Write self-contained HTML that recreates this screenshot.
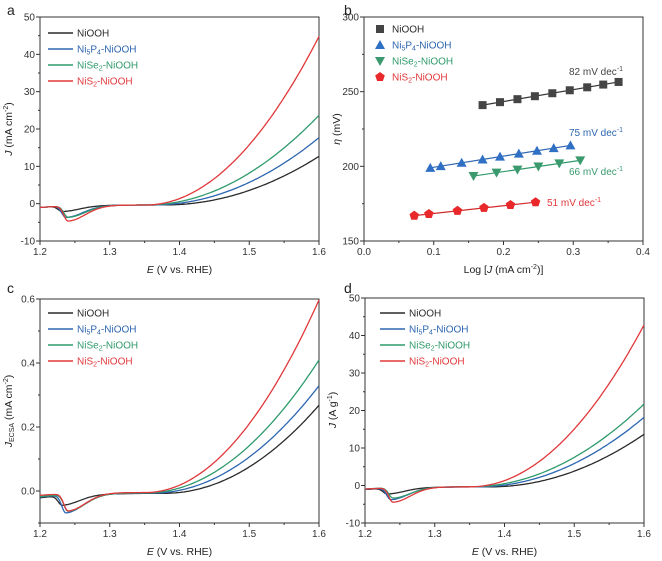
<!DOCTYPE html>
<html><head><meta charset="utf-8"><style>
body{margin:0;background:#fff}
svg{display:block;font-family:"Liberation Sans",sans-serif}
</style></head><body>
<svg id="s" width="662" height="561" viewBox="0 0 662 561" xmlns="http://www.w3.org/2000/svg"></svg>
<script>
const S=document.getElementById('s');let h='';
const C={k:'#2b2b2b',b:'#2d66b0',g:'#2f9a6c',r:'#e0383a'};
function isMaj(v,m){return Math.abs(v/m-Math.round(v/m))<1e-6;}
function axes(L,R,T,B,xmin,xmax,xmaj,xminr,xlab,ymin,ymax,ymaj,ylab){
 h+=`<rect x="${L}" y="${T}" width="${R-L}" height="${B-T}" fill="none" stroke="#333" stroke-width="1"/>`;
 const X=v=>L+(v-xmin)/(xmax-xmin)*(R-L),Y=v=>B-(v-ymin)/(ymax-ymin)*(B-T);
 for(let i=0;;i++){const v=xmin+i*xmaj/2;if(v>xmax+1e-9)break;const x=X(v);const maj=isMaj(v,xmaj);
  h+=`<line x1="${x}" y1="${B}" x2="${x}" y2="${B+(maj?4:2)}" stroke="#333"/>`;
  if(maj)h+=`<text x="${x}" y="${B+14}" font-size="10" text-anchor="middle" fill="#333">${v.toFixed(xminr)}</text>`;}
 for(let i=0;;i++){const v=ymin+i*ymaj/2;if(v>ymax+1e-9)break;const y=Y(v);const maj=isMaj(v,ymaj);
  h+=`<line x1="${L}" y1="${y}" x2="${L-(maj?4:2)}" y2="${y}" stroke="#333"/>`;
  if(maj)h+=`<text x="${L-5}" y="${y+3.5}" font-size="10" text-anchor="end" fill="#333">${ylab(v)}</text>`;}
 h+=`<text x="${(L+R)/2}" y="${B+32}" font-size="10.5" text-anchor="middle" fill="#222">${xlab}</text>`;
 return [X,Y];
}
function model(E,p){
 let v=-1.0+0.7*(1-Math.exp(-(E-1.2)/0.06));
 const d=E-p.c, w=d<0?0.008:0.035; v+=-p.D*Math.exp(-((d/w)**2));
 if(E>p.E0)v+=p.k*(E-p.E0)**2;
 return v;
}
const P={k:{E0:1.38,k:268,D:1.4,c:1.232},b:{E0:1.363,k:320,D:3.0,c:1.237},g:{E0:1.353,k:393,D:3.0,c:1.24},r:{E0:1.352,k:733,D:4.0,c:1.24}};
function curves(X,Y,sc){
 for(const key of ['k','b','g','r']){let d='';
  for(let i=0;i<=200;i++){const E=1.2+i*0.002;const v=model(E,P[key])*sc[key];d+=(d?'L':'M')+X(E).toFixed(1)+' '+Y(v).toFixed(1);}
  h+=`<path d="${d}" fill="none" stroke="${C[key]}" stroke-width="1.3"/>`;}
}
function legend(x,y,mkf){
 const L=[['k','NiOOH'],['b','Ni<tspan font-size="7" dy="2">5</tspan><tspan dy="-2">P</tspan><tspan font-size="7" dy="2">4</tspan><tspan dy="-2">-NiOOH</tspan>'],['g','NiSe<tspan font-size="7" dy="2">2</tspan><tspan dy="-2">-NiOOH</tspan>'],['r','NiS<tspan font-size="7" dy="2">2</tspan><tspan dy="-2">-NiOOH</tspan>']];
 L.forEach((l,i)=>{const yy=y+i*16;
  if(mkf)h+=mkf(l[0],x+10,yy);else h+=`<line x1="${x}" y1="${yy}" x2="${x+25}" y2="${yy}" stroke="${C[l[0]]}" stroke-width="1.5"/>`;
  h+=`<text x="${x+(mkf?22:29)}" y="${yy+3.5}" font-size="10" fill="${C[l[0]]}">${l[1]}</text>`;});
}
const XL='<tspan font-style="italic">E</tspan> (V vs. RHE)';
let R=axes(40,319,17,241,1.2,1.6,0.1,1,XL,-10,50,10,v=>Math.round(v));
curves(R[0],R[1],{k:1,b:1,g:1,r:1});legend(48,33);
h+=`<text transform="translate(12,129) rotate(-90)" font-size="10.5" text-anchor="middle" fill="#222"><tspan font-style="italic">J</tspan> (mA cm<tspan font-size="7" dy="-4">-2</tspan><tspan dy="4">)</tspan></text>`;
R=axes(365,644,298,523,1.2,1.6,0.1,1,XL,-10,50,10,v=>Math.round(v));
curves(R[0],R[1],{k:14/13,b:18.5/18,g:22/24,r:43/45});legend(380,313);
h+=`<text transform="translate(336,410) rotate(-90)" font-size="10.5" text-anchor="middle" fill="#222"><tspan font-style="italic">J</tspan> (A g<tspan font-size="7" dy="-4">-1</tspan><tspan dy="4">)</tspan></text>`;
R=axes(40,319,299,523,1.2,1.6,0.1,1,XL,-0.1,0.6,0.2,v=>Math.abs(v).toFixed(1));
curves(R[0],R[1],{k:0.275/13,b:0.335/18,g:0.415/24,r:0.6/45});legend(48,313);
h+=`<text transform="translate(12,411) rotate(-90)" font-size="10.5" text-anchor="middle" fill="#222"><tspan font-style="italic">J</tspan><tspan font-size="7" dy="2">ECSA</tspan><tspan dy="-2"> (mA cm</tspan><tspan font-size="7" dy="-4">-2</tspan><tspan dy="4">)</tspan></text>`;
R=axes(364,643,17,241,0,0.4,0.1,1,'Log [<tspan font-style="italic">J</tspan> (mA cm<tspan font-size="7" dy="-4">-2</tspan><tspan dy="4">)]</tspan>',150,300,50,v=>Math.round(v));
const X=R[0],Y=R[1];
h+=`<text transform="translate(340,129) rotate(-90)" font-size="10.5" text-anchor="middle" fill="#222"><tspan font-style="italic">η</tspan> (mV)</text>`;
function mk(t,x,y){const c={k:'#454545',b:'#2f6fc4',g:'#3a9a6e',r:'#e8282a'}[t];
 if(t=='k')return `<rect x="${x-4}" y="${y-4}" width="8" height="8" fill="${c}"/>`;
 if(t=='b')return `<polygon points="${x},${y-5} ${x+5},${y+4} ${x-5},${y+4}" fill="${c}"/>`;
 if(t=='g')return `<polygon points="${x},${y+5} ${x+5},${y-4} ${x-5},${y-4}" fill="${c}"/>`;
 let p='';for(let i=0;i<5;i++){const a=-Math.PI/2+i*2*Math.PI/5;p+=(x+5*Math.cos(a)).toFixed(1)+','+(y+5*Math.sin(a)).toFixed(1)+' ';}return `<polygon points="${p}" fill="${c}"/>`;}
const D={k:[[0.17,0.195,0.22,0.245,0.27,0.295,0.32,0.343,0.365],241,256.5],b:[[0.095,0.11,0.14,0.17,0.195,0.222,0.248,0.272,0.296],199,214],g:[[0.157,0.19,0.22,0.25,0.28,0.31],193.5,204],r:[[0.072,0.093,0.134,0.172,0.21,0.246],167,176]};
const LC={k:'#333',b:'#2d66b0',g:'#2f9a6c',r:'#d42a2a'};
for(const t in D){const xs=D[t][0],y0=D[t][1],y1=D[t][2];const a=xs[0],b=xs[xs.length-1];
 h+=`<line x1="${X(a)}" y1="${Y(y0)}" x2="${X(b)}" y2="${Y(y1)}" stroke="${LC[t]}" stroke-width="1.2"/>`;
 xs.forEach(x=>{h+=mk(t,X(x),Y(y0+(x-a)/(b-a)*(y1-y0)));});}
legend(370,29,mk);
const TC={k:'#444',b:'#2d66b0',g:'#3a9a6e',r:'#e0383a'};
[['k','82',569,75],['b','75',569,136],['g','66',569,175],['r','51',547,206]].forEach(a=>{
 h+=`<text x="${a[2]}" y="${a[3]}" font-size="10" fill="${TC[a[0]]}">${a[1]} mV dec<tspan font-size="7" dy="-4">-1</tspan></text>`;});
h+=`<text x="7" y="15" font-size="14" fill="#222">a</text><text x="344" y="15" font-size="14" fill="#222">b</text><text x="7" y="293" font-size="14" fill="#222">c</text><text x="344" y="293" font-size="14" fill="#222">d</text>`;
S.innerHTML=h;
</script>
</body></html>
